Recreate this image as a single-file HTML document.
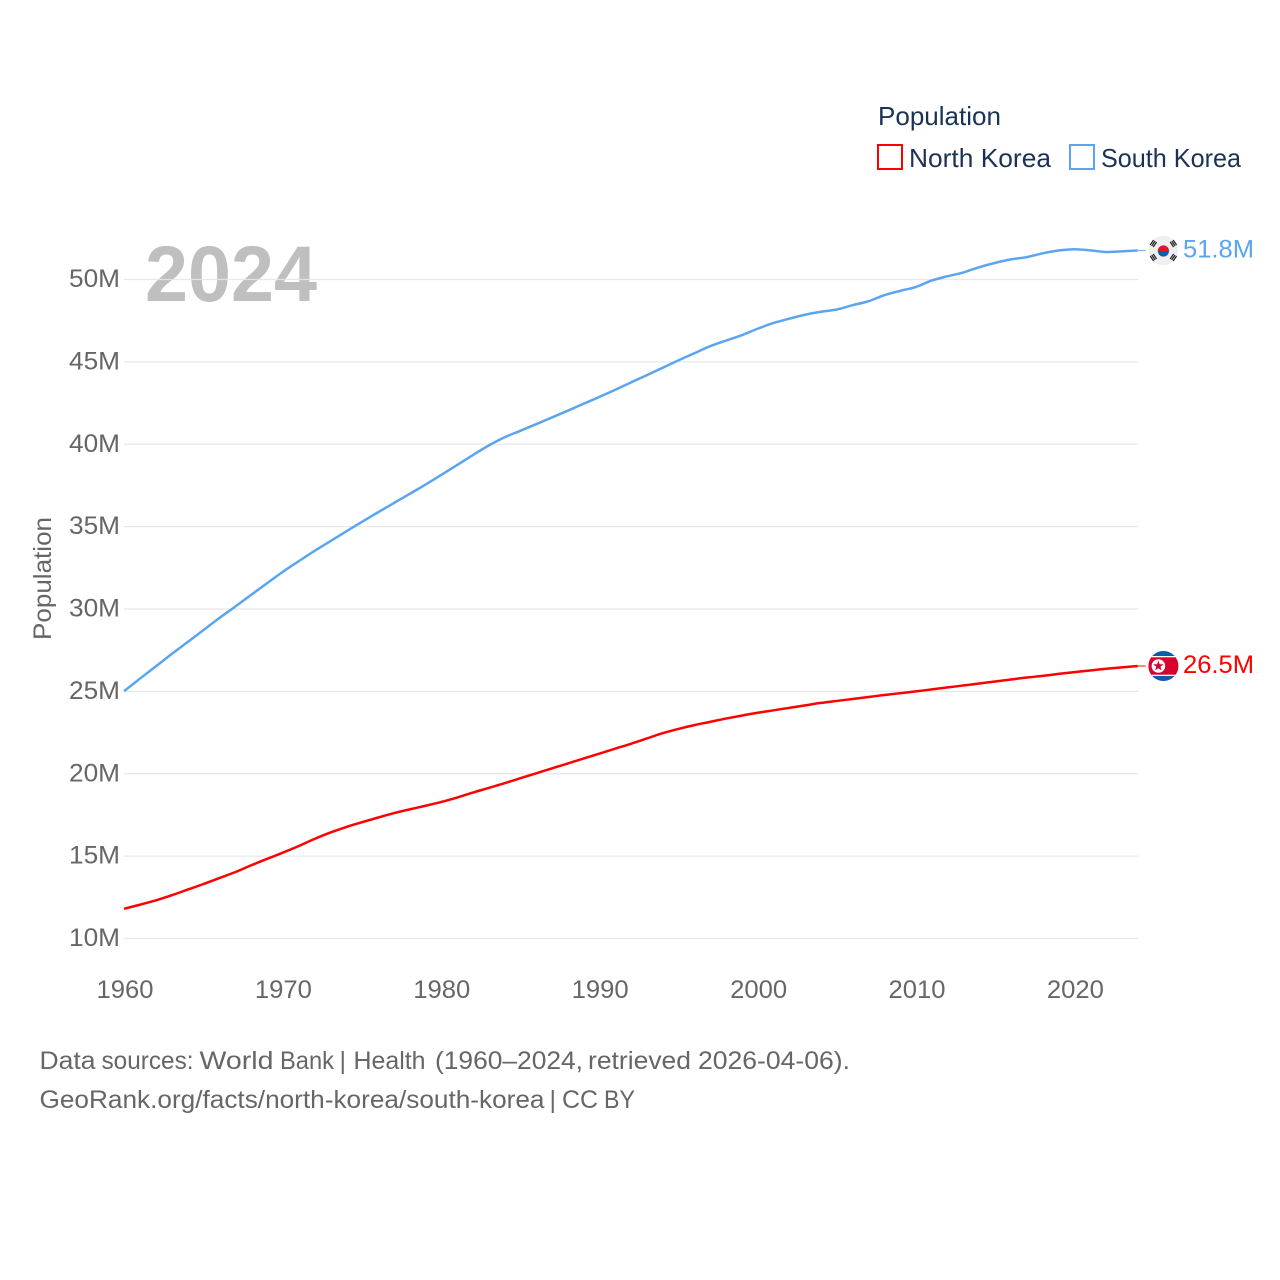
<!DOCTYPE html>
<html lang="en">
<head>
<meta charset="utf-8">
<title>North Korea vs South Korea population</title>
<style>
html,body{margin:0;padding:0;background:#fff;width:1280px;height:1280px;overflow:hidden}
svg{display:block;font-family:"Liberation Sans",Arial,sans-serif}
</style>
</head>
<body>
<svg id="chart" width="1280" height="1280" viewBox="0 0 1280 1280" xmlns="http://www.w3.org/2000/svg">
  <rect x="0" y="0" width="1280" height="1280" fill="#ffffff"/>
  <text x="145" y="301" font-size="79" font-weight="700" fill="#bfbfbf" textLength="172" lengthAdjust="spacingAndGlyphs">2024</text>
  <g id="grid"></g>
  <g id="yaxis"></g>
  <g id="xaxis"></g>
  <text transform="translate(51,578.5) rotate(-90)" text-anchor="middle" font-size="25" fill="#666666" textLength="123" lengthAdjust="spacingAndGlyphs">Population</text>
  <g id="series"></g>

  <g>
    <text x="878" y="125" font-size="26" fill="#1a3354" textLength="123" lengthAdjust="spacingAndGlyphs">Population</text>
    <g>
      <rect x="878" y="145" width="24" height="24" fill="#ffffff" stroke="#ff0000" stroke-width="2"/>
      <text x="909" y="167" font-size="26" fill="#1a3354" textLength="142" lengthAdjust="spacingAndGlyphs">North Korea</text>
    </g>
    <g>
      <rect x="1070" y="145" width="24" height="24" fill="#ffffff" stroke="#5ba5f0" stroke-width="2"/>
      <text x="1101" y="167" font-size="26" fill="#1a3354" textLength="140" lengthAdjust="spacingAndGlyphs">South Korea</text>
    </g>
  </g>

  <g id="flag-south">
    <circle cx="0" cy="0" r="14.7" fill="#efefef"/>
    <path d="M-5.6,0.5 A5.6,5.6 0 0 1 5.6,0.5 Z" fill="#e8112d"/>
    <path d="M-5.6,0.5 A5.6,5.6 0 0 0 5.6,0.5 Z" fill="#0b5ea8"/>
    <g stroke="#222222" stroke-width="1.2" fill="none">
      <path d="M-10.2,-3.5 L-6.8,-8.5 M-11.7,-4.5 L-8.3,-9.5 M-13.2,-5.5 L-9.8,-10.5"/>
      <path transform="scale(-1,1)" d="M-10.2,-3.5 L-6.8,-8.5 M-11.7,-4.5 L-8.3,-9.5 M-13.2,-5.5 L-9.8,-10.5"/>
      <path transform="scale(1,-1)" d="M-10.2,-3.5 L-6.8,-8.5 M-11.7,-4.5 L-8.3,-9.5 M-13.2,-5.5 L-9.8,-10.5"/>
      <path transform="scale(-1,-1)" d="M-10.2,-3.5 L-6.8,-8.5 M-11.7,-4.5 L-8.3,-9.5 M-13.2,-5.5 L-9.8,-10.5"/>
    </g>
  </g>

  <g id="flag-north">
    <clipPath id="nk-clip"><circle cx="0" cy="0" r="15"/></clipPath>
    <g clip-path="url(#nk-clip)">
      <rect x="-15" y="-15" width="30" height="30" fill="#0b5cab"/>
      <rect x="-15" y="-10" width="30" height="20" fill="#ffffff"/>
      <rect x="-15" y="-8.7" width="30" height="17.4" fill="#d8002c"/>
      <circle cx="-5" cy="0" r="6.8" fill="#ffffff"/>
      <polygon points="-5,-5.4 -3.7,-1.7 0.2,-1.7 -2.9,0.7 -1.8,4.4 -5,2.2 -8.2,4.4 -7.1,0.7 -10.2,-1.7 -6.3,-1.7" fill="#d8002c"/>
    </g>
  </g>

  <g id="endlabels"></g>

  <text y="1069" font-size="25" fill="#666666"><tspan x="39.5" textLength="56" lengthAdjust="spacingAndGlyphs">Data</tspan> <tspan x="101.5" textLength="92" lengthAdjust="spacingAndGlyphs">sources:</tspan> <tspan x="199.5" textLength="74" lengthAdjust="spacingAndGlyphs">World</tspan> <tspan x="280" textLength="54" lengthAdjust="spacingAndGlyphs">Bank</tspan> <tspan x="339.5">|</tspan> <tspan x="353.5" textLength="72" lengthAdjust="spacingAndGlyphs">Health</tspan> <tspan x="435" textLength="148" lengthAdjust="spacingAndGlyphs">(1960–2024,</tspan> <tspan x="588" textLength="103" lengthAdjust="spacingAndGlyphs">retrieved</tspan> <tspan x="698" textLength="152" lengthAdjust="spacingAndGlyphs">2026-04-06).</tspan></text>
  <text y="1108" font-size="25" fill="#666666"><tspan x="39.5" textLength="505" lengthAdjust="spacingAndGlyphs">GeoRank.org/facts/north-korea/south-korea</tspan> <tspan x="549.5">|</tspan> <tspan x="562" textLength="36" lengthAdjust="spacingAndGlyphs">CC</tspan> <tspan x="604" textLength="31" lengthAdjust="spacingAndGlyphs">BY</tspan></text>
</svg>

<script>
const firstYear = 1960;
const yTickValues = [10, 15, 20, 25, 30, 35, 40, 45, 50];
const xTickValues = [1960, 1970, 1980, 1990, 2000, 2010, 2020];
const northKoreaValues = [
  11.80, 12.05, 12.31, 12.62, 12.96, 13.30, 13.66, 14.02, 14.43, 14.82,
  15.20, 15.60, 16.03, 16.42, 16.76, 17.05, 17.33, 17.60, 17.83, 18.05,
  18.28, 18.55, 18.85, 19.13, 19.42, 19.72, 20.02, 20.32, 20.62, 20.92,
  21.22, 21.52, 21.82, 22.14, 22.46, 22.72, 22.95, 23.15, 23.35, 23.53,
  23.70, 23.85, 24.00, 24.15, 24.30, 24.42, 24.54, 24.66, 24.78, 24.89,
  25.00, 25.12, 25.24, 25.36, 25.48, 25.60, 25.72, 25.84, 25.94, 26.06,
  26.17, 26.27, 26.37, 26.46, 26.54
];
const southKoreaValues = [
  25.01, 25.77, 26.51, 27.26, 27.98, 28.71, 29.44, 30.13, 30.84, 31.54,
  32.24, 32.88, 33.51, 34.10, 34.69, 35.28, 35.85, 36.41, 36.97, 37.53,
  38.12, 38.72, 39.33, 39.91, 40.41, 40.81, 41.21, 41.62, 42.03, 42.45,
  42.87, 43.30, 43.75, 44.19, 44.64, 45.09, 45.52, 45.95, 46.29, 46.62,
  47.01, 47.36, 47.62, 47.86, 48.04, 48.18, 48.44, 48.68, 49.05, 49.31,
  49.55, 49.94, 50.20, 50.43, 50.75, 51.01, 51.22, 51.36, 51.59, 51.76,
  51.84, 51.77, 51.67, 51.71, 51.76
];

const NS = 'http://www.w3.org/2000/svg';
const xScale = function (year) { return 124 + (year - 1960) * 15.84; };
const yScale = function (value) { return 938.5 - (value - 10) * 16.475; };

function make(tag, attrs, text) {
  const el = document.createElementNS(NS, tag);
  Object.keys(attrs).forEach(function (k) { el.setAttribute(k, attrs[k]); });
  if (text !== undefined) el.textContent = text;
  return el;
}

const gridGroup = document.getElementById('grid');
const yAxisGroup = document.getElementById('yaxis');
yTickValues.forEach(function (v) {
  const line = make('line', { x1: 124, x2: 1138, y1: yScale(v), y2: yScale(v), stroke: '#e6e6e6', 'stroke-opacity': 0.9, 'stroke-width': 1.2 });
  
  
  gridGroup.appendChild(line);
  const label = make('text', { x: 120, y: yScale(v) + 7.5, 'text-anchor': 'end', 'font-size': 25, fill: '#666666', textLength: 51, lengthAdjust: 'spacingAndGlyphs' }, v + 'M');
  
  
  yAxisGroup.appendChild(label);
});

const xAxisGroup = document.getElementById('xaxis');
xTickValues.forEach(function (year) {
  const label = make('text', { x: xScale(year) + 1, y: 998, 'text-anchor': 'middle', 'font-size': 25, fill: '#666666', textLength: 57, lengthAdjust: 'spacingAndGlyphs' }, String(year));
  
  
  xAxisGroup.appendChild(label);
});

function linePath(values) {
  const pts = values.map(function (v, i) { return [xScale(firstYear + i), yScale(v)]; });
  let d = 'M' + pts[0][0].toFixed(2) + ',' + pts[0][1].toFixed(2);
  for (let i = 0; i < pts.length - 1; i++) {
    const p0 = pts[Math.max(i - 1, 0)];
    const p1 = pts[i];
    const p2 = pts[i + 1];
    const p3 = pts[Math.min(i + 2, pts.length - 1)];
    const c1x = p1[0] + (p2[0] - p0[0]) / 6;
    const c1y = p1[1] + (p2[1] - p0[1]) / 6;
    const c2x = p2[0] - (p3[0] - p1[0]) / 6;
    const c2y = p2[1] - (p3[1] - p1[1]) / 6;
    d += ' C' + c1x.toFixed(2) + ',' + c1y.toFixed(2) + ' ' + c2x.toFixed(2) + ',' + c2y.toFixed(2) + ' ' + p2[0].toFixed(2) + ',' + p2[1].toFixed(2);
  }
  return d;
}

const seriesGroup = document.getElementById('series');
const northLine = make('path', { d: linePath(northKoreaValues), fill: 'none', stroke: '#ff0000', 'stroke-width': 2.5, 'stroke-linejoin': 'round' });


seriesGroup.appendChild(northLine);
const southLine = make('path', { d: linePath(southKoreaValues), fill: 'none', stroke: '#5ba5f0', 'stroke-width': 2.5, 'stroke-linejoin': 'round' });


seriesGroup.appendChild(southLine);

const lastYear = firstYear + northKoreaValues.length - 1;
const endGroup = document.getElementById('endlabels');

function endMarks(values, color, flagId) {
  const v = values[values.length - 1];
  const y = yScale(v);
  const x = xScale(lastYear);
  const leader = make('line', { x1: x, x2: x + 8, y1: y, y2: y, stroke: color, 'stroke-width': 1.2, 'stroke-opacity': 0.8 });
  
  
  endGroup.appendChild(leader);
  document.getElementById(flagId).setAttribute('transform', 'translate(1163.4,' + y.toFixed(2) + ')');
  const label = make('text', { x: 1183, y: y + 7, 'font-size': 25, fill: color, textLength: 71, lengthAdjust: 'spacingAndGlyphs' }, v.toFixed(1) + 'M');
  
  
  endGroup.appendChild(label);
}
endMarks(northKoreaValues, '#ff0000', 'flag-north');
endMarks(southKoreaValues, '#5ba5f0', 'flag-south');
</script>
</body>
</html>
